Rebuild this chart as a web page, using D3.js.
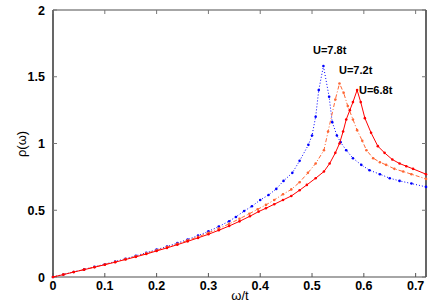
<!DOCTYPE html>
<html>
<head>
<meta charset="utf-8">
<script src="https://cdn.jsdelivr.net/npm/d3@7"></script>
<style>
  body { margin: 0; background: #fff; }
  text { font-family: "Liberation Sans", Arial, sans-serif; }
</style>
</head>
<body>
<div id="body"></div>
<script>
// omega/t values and rho(omega) for each U
var omegaU78 = [0, 0.02, 0.04, 0.06, 0.08, 0.10, 0.12, 0.14, 0.16, 0.18, 0.20, 0.22, 0.24, 0.26, 0.28, 0.30, 0.32, 0.34,
    0.353, 0.369, 0.384, 0.400, 0.416, 0.431, 0.445, 0.462, 0.476, 0.493, 0.500, 0.507, 0.513, 0.522,
    0.533, 0.539, 0.548, 0.555, 0.566, 0.579, 0.595, 0.611, 0.631, 0.650, 0.669, 0.692, 0.720];
var rhoU78 = [0, 0.019, 0.038, 0.057, 0.076, 0.096, 0.116, 0.137, 0.159, 0.182, 0.205, 0.229, 0.254, 0.281, 0.310, 0.342, 0.378, 0.418,
    0.450, 0.494, 0.530, 0.577, 0.614, 0.660, 0.720, 0.780, 0.870, 0.990, 1.060, 1.200, 1.400, 1.580,
    1.350, 1.160, 1.060, 1.010, 0.950, 0.890, 0.840, 0.800, 0.770, 0.740, 0.720, 0.700, 0.675];

var omegaU72 = [0, 0.02, 0.04, 0.06, 0.08, 0.10, 0.12, 0.14, 0.16, 0.18, 0.20, 0.22, 0.24, 0.26, 0.28, 0.30, 0.32, 0.34,
    0.360, 0.379, 0.395, 0.411, 0.427, 0.444, 0.460, 0.476, 0.492, 0.507, 0.523, 0.531, 0.545, 0.553,
    0.561, 0.569, 0.579, 0.587, 0.597, 0.605, 0.618, 0.631, 0.643, 0.659, 0.676, 0.692, 0.720];
var rhoU72 = [0, 0.019, 0.037, 0.056, 0.075, 0.094, 0.113, 0.134, 0.155, 0.177, 0.200, 0.224, 0.248, 0.274, 0.301, 0.331, 0.363, 0.398,
    0.436, 0.474, 0.507, 0.540, 0.577, 0.620, 0.656, 0.710, 0.780, 0.850, 0.950, 1.090, 1.330, 1.450,
    1.380, 1.280, 1.180, 1.100, 1.020, 0.950, 0.890, 0.860, 0.840, 0.810, 0.790, 0.770, 0.735];

var omegaU68 = [0, 0.02, 0.04, 0.06, 0.08, 0.10, 0.12, 0.14, 0.16, 0.18, 0.20, 0.22, 0.24, 0.26, 0.28, 0.30, 0.32, 0.34,
    0.360, 0.380, 0.397, 0.411, 0.427, 0.444, 0.460, 0.476, 0.490, 0.507, 0.523, 0.534, 0.545, 0.553,
    0.560, 0.566, 0.573, 0.579, 0.587, 0.594, 0.602, 0.614, 0.627, 0.640, 0.655, 0.669, 0.682, 0.695, 0.720];
var rhoU68 = [0, 0.018, 0.037, 0.055, 0.073, 0.092, 0.111, 0.131, 0.151, 0.172, 0.195, 0.218, 0.242, 0.267, 0.293, 0.320, 0.350, 0.382,
    0.417, 0.455, 0.490, 0.515, 0.545, 0.577, 0.607, 0.650, 0.690, 0.740, 0.790, 0.850, 0.930, 1.000,
    1.090, 1.180, 1.250, 1.310, 1.400, 1.310, 1.190, 1.080, 0.980, 0.930, 0.880, 0.850, 0.830, 0.810, 0.770];

var seriesNames = ["U=7.8t", "U=7.2t", "U=6.8t"];
var xTicks = [0, 0.1, 0.2, 0.3, 0.4, 0.5, 0.6, 0.7];
var yTicks = [0, 0.5, 1, 1.5, 2];

var W = 436, H = 305;
var margin = { top: 10, right: 10, bottom: 28, left: 53 };

var x = d3.scaleLinear().domain([0, 0.72]).range([margin.left, W - margin.right]);
var y = d3.scaleLinear().domain([0, 2]).range([H - margin.bottom, margin.top]);

var svg = d3.select("#body").append("svg")
    .attr("width", W)
    .attr("height", H);

// box
svg.append("line").attr("x1", x(0)).attr("x2", x(0.72)).attr("y1", y(2)).attr("y2", y(2))
    .attr("stroke", "#888").attr("stroke-width", 1.6);
svg.append("line").attr("x1", x(0)).attr("x2", x(0.72)).attr("y1", y(0)).attr("y2", y(0))
    .attr("stroke", "#888").attr("stroke-width", 1.6);
svg.append("line").attr("x1", x(0)).attr("x2", x(0)).attr("y1", y(0)).attr("y2", y(2))
    .attr("stroke", "#000").attr("stroke-width", 1.2);
svg.append("line").attr("x1", x(0.72)).attr("x2", x(0.72)).attr("y1", y(0)).attr("y2", y(2))
    .attr("stroke", "#000").attr("stroke-width", 1.2);

// inward ticks on all sides
var tickLen = 4;
xTicks.forEach(t => {
    svg.append("line").attr("x1", x(t)).attr("x2", x(t)).attr("y1", y(0)).attr("y2", y(0) - tickLen)
        .attr("stroke", "#555").attr("stroke-width", 1);
    svg.append("line").attr("x1", x(t)).attr("x2", x(t)).attr("y1", y(2)).attr("y2", y(2) + tickLen)
        .attr("stroke", "#777").attr("stroke-width", 1);
    svg.append("text")
        .attr("x", x(t)).attr("y", y(0) + 12.5)
        .attr("text-anchor", "middle")
        .style("font-size", "12.5px").style("font-weight", "bold")
        .text(t === 0 ? "0" : t.toFixed(1));
});
yTicks.forEach(t => {
    svg.append("line").attr("x1", x(0)).attr("x2", x(0) + tickLen).attr("y1", y(t)).attr("y2", y(t))
        .attr("stroke", "#777").attr("stroke-width", 1);
    svg.append("line").attr("x1", x(0.72)).attr("x2", x(0.72) - tickLen).attr("y1", y(t)).attr("y2", y(t))
        .attr("stroke", "#777").attr("stroke-width", 1);
    svg.append("text")
        .attr("x", x(0) - 8).attr("y", y(t) + 4.5)
        .attr("text-anchor", "end")
        .style("font-size", "12.5px").style("font-weight", "bold")
        .text(t);
});

// axis titles
svg.append("text")
    .attr("x", 240).attr("y", 300)
    .attr("text-anchor", "middle")
    .style("font-size", "13px")
    .text("ω/t");
svg.append("text")
    .attr("transform", "translate(26,144) rotate(-90)")
    .attr("text-anchor", "middle")
    .style("font-size", "13px")
    .text("ρ(ω)");

// curves
var series = [
    { name: seriesNames[0], omega: omegaU78, rho: rhoU78, color: "#0000ff", dash: "1,2" },
    { name: seriesNames[1], omega: omegaU72, rho: rhoU72, color: "#ff6633", dash: "4,2,1,2" },
    { name: seriesNames[2], omega: omegaU68, rho: rhoU68, color: "#ff0000", dash: null }
];

var line = d3.line()
    .x(d => x(d[0]))
    .y(d => y(d[1]));

series.forEach(s => {
    var pts = s.omega.map((w, i) => [w, s.rho[i]]);
    svg.append("path")
        .datum(pts)
        .attr("fill", "none")
        .attr("stroke", s.color)
        .attr("stroke-width", 1)
        .attr("stroke-dasharray", s.dash)
        .attr("d", line);
    svg.append("g").selectAll("circle")
        .data(pts)
        .enter().append("circle")
        .attr("cx", d => x(d[0]))
        .attr("cy", d => y(d[1]))
        .attr("r", 1.3)
        .attr("fill", s.color);
});

// peak labels
var labelPos = [[313, 54], [339, 74], [359, 94]];
seriesNames.forEach((n, i) => {
    svg.append("text")
        .attr("x", labelPos[i][0]).attr("y", labelPos[i][1])
        .style("font-size", "11px").style("font-weight", "bold")
        .text(n);
});
</script>
</body>
</html>
